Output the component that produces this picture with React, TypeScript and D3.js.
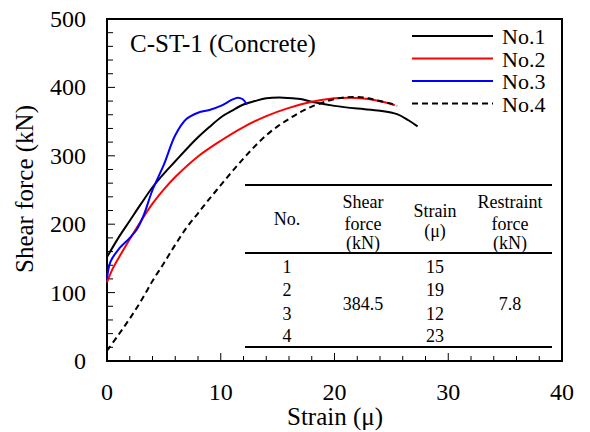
import React from "react";
import * as d3 from "d3";

// strain (μ), shear force (kN)
const no1: [number, number][] = [
  [0, 152], [1, 180], [2, 205], [3, 230], [4, 254], [5, 274], [6, 292], [7, 310],
  [8, 327], [9, 342], [10, 356], [11, 366], [12, 375], [13, 380], [14, 384],
  [15.5, 385], [17, 383], [18, 379], [20, 373], [22, 369], [24, 366],
  [25.5, 361], [26.5, 352], [27.3, 343],
];
const no2: [number, number][] = [
  [0, 115], [0.5, 135], [1, 150], [2, 178], [3, 205], [4, 230], [5, 251], [6, 269],
  [8, 299], [10, 322], [12, 342], [14, 358], [16, 370], [18, 379], [20, 384],
  [21.5, 385], [23, 383], [24.5, 378], [25.3, 374],
];
const no3: [number, number][] = [
  [0, 120], [0.3, 145], [1, 163], [2, 180], [2.6, 192], [3.2, 212], [4, 250], [5, 287],
  [6, 330], [7, 354], [8, 363], [9, 367], [10, 373], [11, 382], [11.5, 385],
  [11.9, 383], [12.3, 375],
];
const no4: [number, number][] = [
  [0, 15], [1, 38], [2, 62], [3, 88], [4, 117], [5, 143], [6, 170], [7, 195], [8, 216],
  [9, 237], [10, 257], [11, 277], [12, 296], [13, 314], [14, 330], [15, 343], [16, 354],
  [17, 364], [18, 372], [19, 378], [20, 383], [21, 385.5], [22, 386], [23, 384],
  [24, 380], [25, 376], [25.5, 373],
];

const seriesNames = ["No.1", "No.2", "No.3", "No.4"];
const seriesData = [no1, no2, no3, no4];
const seriesColors = ["#000000", "#ff0000", "#0000ff", "#000000"];

const xTicks = [0, 10, 20, 30, 40];
const yTicks = [0, 100, 200, 300, 400, 500];

const tableNo = ["1", "2", "3", "4"];
const tableStrain = ["15", "19", "12", "23"];
const tableShear = "384.5";
const tableRestraint = "7.8";

const W = 590;
const H = 432;
const left = 107;
const right = 562;
const top = 19;
const bottom = 361;
const serif = "'Liberation Serif', 'Times New Roman', serif";

export default function App() {
  const x = d3.scaleLinear().domain([0, 40]).range([left, right]);
  const y = d3.scaleLinear().domain([0, 500]).range([bottom, top]);
  const line = d3
    .line<[number, number]>()
    .x((d) => x(d[0]))
    .y((d) => y(d[1]))
    .curve(d3.curveCatmullRom.alpha(0.5));

  const xMinor = d3.range(0, 40.01, 2);
  const yMinor = d3.range(0, 500.01, 20);

  // table layout
  const tL = 245, tR = 552;
  const tTop = 185, tHead = 253, tBot = 347;
  const cNo = 287, cShear = 363, cStrain = 435, cRest = 510;
  const rowY = [273, 296, 320, 342];

  return (
    <svg width={W} height={H} style={{ position: "absolute", left: 0, top: 0, background: "#fff", fontFamily: serif }}>
      {/* ticks */}
      {xMinor.map((v) => (
        <line key={"xt" + v} x1={x(v)} x2={x(v)} y1={bottom} y2={bottom - (v % 10 === 0 ? 8 : 5)} stroke="#000" strokeWidth={1} />
      ))}
      {yMinor.map((v) => (
        <line key={"yt" + v} x1={left} x2={left + (v % 100 === 0 ? 8 : 6)} y1={y(v)} y2={y(v)} stroke="#000" strokeWidth={1} />
      ))}
      <rect x={left} y={top} width={right - left} height={bottom - top} fill="none" stroke="#000" strokeWidth={2} />

      {xTicks.map((v) => (
        <text key={"xl" + v} x={x(v)} y={400} textAnchor="middle" fontSize={24}>
          {v}
        </text>
      ))}
      {yTicks.map((v) => (
        <text key={"yl" + v} x={86} y={y(v) + 8} textAnchor="end" fontSize={24}>
          {v}
        </text>
      ))}
      <text x={335} y={425} textAnchor="middle" fontSize={25}>
        Strain (μ)
      </text>
      <text transform={`translate(33,189) rotate(-90)`} textAnchor="middle" fontSize={25}>
        Shear force (kN)
      </text>

      {/* curves */}
      {seriesData.map((d, i) => (
        <path
          key={seriesNames[i]}
          d={line(d) ?? ""}
          fill="none"
          stroke={seriesColors[i]}
          strokeWidth={2}
          strokeDasharray={i === 3 ? "6,4" : undefined}
        />
      ))}

      <text x={130} y={52} fontSize={25}>
        C-ST-1 (Concrete)
      </text>

      {/* legend */}
      {seriesNames.map((n, i) => (
        <g key={"lg" + n} transform={`translate(0,${36 + i * 22.5})`}>
          <line x1={412} x2={493} y1={0} y2={0} stroke={seriesColors[i]} strokeWidth={2} strokeDasharray={i === 3 ? "6,4" : undefined} />
          <text x={502} y={8} fontSize={22}>
            {n}
          </text>
        </g>
      ))}

      {/* table */}
      <g fontSize={18} textAnchor="middle">
        <line x1={tL} x2={tR} y1={tTop} y2={tTop} stroke="#000" strokeWidth={2} />
        <line x1={tL} x2={tR} y1={tHead} y2={tHead} stroke="#000" strokeWidth={2} />
        <line x1={tL} x2={tR} y1={tBot} y2={tBot} stroke="#000" strokeWidth={2} />
        <text x={cNo} y={225}>No.</text>
        <text x={cShear} y={208}>Shear</text>
        <text x={cShear} y={230}>force</text>
        <text x={cShear} y={249}>(kN)</text>
        <text x={cStrain} y={217}>Strain</text>
        <text x={cStrain} y={237}>(μ)</text>
        <text x={cRest} y={208}>Restraint</text>
        <text x={cRest} y={230}>force</text>
        <text x={cRest} y={249}>(kN)</text>
        {tableNo.map((n, i) => (
          <text key={"tn" + n} x={cNo} y={rowY[i]}>{n}</text>
        ))}
        {tableStrain.map((s, i) => (
          <text key={"ts" + i} x={cStrain} y={rowY[i]}>{s}</text>
        ))}
        <text x={cShear} y={310}>{tableShear}</text>
        <text x={cRest} y={310}>{tableRestraint}</text>
      </g>
    </svg>
  );
}
